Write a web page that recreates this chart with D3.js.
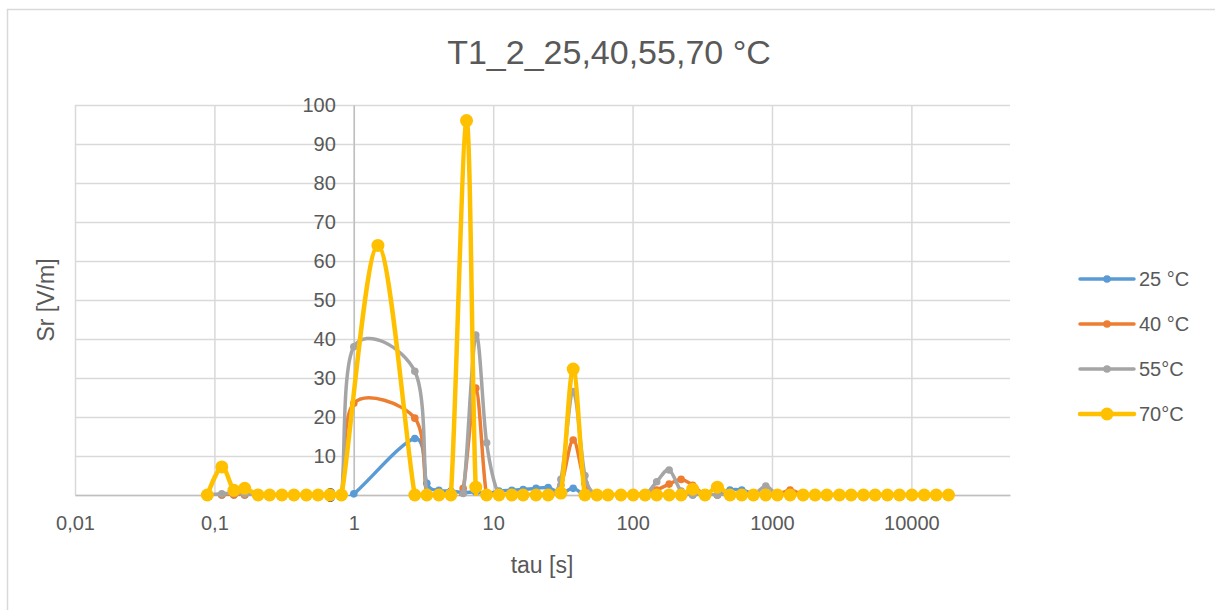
<!DOCTYPE html>
<html>
<head>
<meta charset="utf-8">
<script src="https://cdn.jsdelivr.net/npm/d3@7"></script>
<style>
  html, body { margin: 0; padding: 0; background: #fff; }
  svg { display: block; font-family: "Liberation Sans", Arial, sans-serif; }
</style>
</head>
<body>
<svg id="chart" width="1215" height="610"></svg>
<script>
// Relaxation-time grid tau [s] shared by all four temperature series
const tauGrid = [
  0.089, 0.113, 0.138, 0.165, 0.206, 0.249, 0.305, 0.372, 0.457, 0.554, 0.673, 0.816,
  1.0, 1.49, 2.74, 3.34, 4.08, 4.97, 6.09, 6.44, 7.5, 8.97, 11.0, 13.6, 16.4, 20.3,
  24.8, 30.6, 37.5, 45.5, 55.5, 66.6, 82.5, 101, 123, 149, 183, 223, 270, 331, 406,
  500, 607, 736, 903, 1094, 1349, 1672, 2039, 2474, 3046, 3697, 4531, 5497, 6735,
  8215, 10080, 12360, 15070, 18460
];

// Sr [V/m] per temperature (null = no value at that tau)
const sr25 = [
  0, 0, 0, 0, 0, 0, 0, 0, 0, 0, 0, 0,
  0.3, null, 14.5, 3, 1.2, 1, 0.6, null, 0.8, 0.3, 1.0, 1.2, 1.4, 1.7,
  1.9, 0.5, 1.7, 0, 0, 0, 0, 0, 0, 0, 0, 0, 0, 0, 0,
  1.3, 1.3, 0.3, 0, 0, 0, 0, 0, 0, 0, 0, 0, 0, 0,
  0, 0, 0, 0, 0
];
const sr40 = [
  0, 0, 0, 0, 0, 0, 0, 0, 0, 0, 0, 0,
  23.5, null, 19.7, 0.3, 0, 0, 1.7, null, 27.4, 0, 0, 0, 0, 0,
  0, 2.5, 14.1, 3, 0, 0, 0, 0, 0.5, 1.3, 2.8, 4, 2.5, 0, 0,
  0, 0, 0, 0, 0, 1.3, 0, 0, 0, 0, 0, 0, 0, 0,
  0, 0, 0, 0, 0
];
const sr55 = [
  0, 0.3, 0.5, 0.3, 0, 0, 0, 0, 0, 0, 0, 0,
  38, null, 31.7, 0.5, 0, 0, 0.4, null, 41, 13.4, 0, 0, 0, 0,
  0, 4, 26.5, 5, 0, 0, 0, 0, 0, 3.4, 6.4, 1, 0, 0, 0,
  0, 0, 0, 2.3, 0, 0, 0, 0, 0, 0, 0, 0, 0, 0,
  0, 0, 0, 0, 0
];
const sr70 = [
  0, 7.2, 1.2, 1.7, 0, 0, 0, 0, 0, 0, 0, 0,
  null, 64, 0, 0, 0, 0, null, 96, 2, 0, 0, 0, 0, 0,
  0, 0.5, 32.3, 0, 0, 0, 0, 0, 0, 0, 0, 0, 1.5, 0, 2,
  0, 0, 0, 0, 0, 0, 0, 0, 0, 0, 0, 0, 0, 0,
  0, 0, 0, 0, 0
];

const seriesNames = ["25 °C", "40 °C", "55°C", "70°C"];
const seriesValues = [sr25, sr40, sr55, sr70];
const seriesColors = ["#5B9BD5", "#ED7D31", "#A5A5A5", "#FFC000"];

const xTicks = [0.01, 0.1, 1, 10, 100, 1000, 10000];
const xTickLabels = ["0,01", "0,1", "1", "10", "100", "1000", "10000"];
const yTicks = [0, 10, 20, 30, 40, 50, 60, 70, 80, 90, 100];

const titleText = "T1_2_25,40,55,70 °C";
const xTitle = "tau [s]";
const yTitle = "Sr [V/m]";

// ---- layout ----
const svg = d3.select("#chart");
const plot = { left: 75, right: 1010, top: 105, bottom: 495 };
const gridColor = "#d9d9d9";
const textColor = "#595959";
const fontStack = "Liberation Sans, Arial, sans-serif";

const x = d3.scaleLog().domain([0.01, 51000]).range([plot.left, plot.right]);
const y = d3.scaleLinear().domain([0, 100]).range([plot.bottom, plot.top]);

// clip series lines to the plot area (markers stay unclipped)
svg.append("defs").append("clipPath").attr("id", "plotClip")
  .append("rect")
  .attr("x", plot.left).attr("y", plot.top - 4)
  .attr("width", plot.right - plot.left).attr("height", plot.bottom - plot.top + 5);

// chart frame
svg.append("rect")
  .attr("x", 7.5).attr("y", 9.5)
  .attr("width", 1230).attr("height", 620)
  .attr("fill", "#fff").attr("stroke", gridColor).attr("stroke-width", 1.5);

// title
svg.append("text")
  .attr("x", 609).attr("y", 64)
  .attr("text-anchor", "middle")
  .attr("font-size", 34)
  .attr("fill", textColor)
  .text(titleText);

// horizontal gridlines
svg.append("g")
  .attr("transform", `translate(${plot.left},0)`)
  .call(d3.axisLeft(y).tickValues(yTicks).tickSize(-(plot.right - plot.left)).tickFormat(""))
  .call(g => g.select(".domain").remove())
  .call(g => g.selectAll("line").attr("stroke", gridColor).attr("stroke-width", 1.5));

// vertical gridlines
svg.append("g")
  .attr("transform", `translate(0,${plot.bottom})`)
  .call(d3.axisBottom(x).tickValues(xTicks).tickSize(-(plot.bottom - plot.top)).tickFormat(""))
  .call(g => g.select(".domain").remove())
  .call(g => g.selectAll("line").attr("stroke", gridColor).attr("stroke-width", 1.5));

// x axis line and labels
svg.append("g")
  .attr("transform", `translate(0,${plot.bottom})`)
  .call(d3.axisBottom(x).tickValues(xTicks).tickSize(0).tickPadding(21)
    .tickFormat((d, i) => xTickLabels[i]))
  .call(g => g.select(".domain").attr("stroke", "#bfbfbf").attr("stroke-width", 1.5))
  .call(g => g.selectAll("text").attr("font-size", 20).attr("fill", textColor)
    .attr("font-family", fontStack));

// y axis crossing at tau = 1
svg.append("g")
  .attr("transform", `translate(${x(1)},0)`)
  .call(d3.axisLeft(y).tickValues(yTicks).tickSize(0).tickPadding(18))
  .call(g => g.select(".domain").attr("stroke", "#bfbfbf").attr("stroke-width", 1.5))
  .call(g => g.selectAll("text").attr("font-size", 20).attr("fill", textColor)
    .attr("font-family", fontStack));

// axis titles
svg.append("text")
  .attr("x", 542).attr("y", 573)
  .attr("text-anchor", "middle").attr("font-size", 23).attr("fill", textColor)
  .text(xTitle);
svg.append("text")
  .attr("transform", `translate(54,${(plot.top + plot.bottom) / 2}) rotate(-90)`)
  .attr("text-anchor", "middle").attr("font-size", 23).attr("fill", textColor)
  .text(yTitle);

// series
const line = d3.line()
  .x(d => x(d.tau))
  .y(d => y(d.v))
  .curve(d3.curveCardinal.tension(0));

seriesValues.forEach((vals, si) => {
  const pts = tauGrid.map((t, i) => ({ tau: t, v: vals[i] })).filter(d => d.v !== null);
  const big = si === 3;
  const g = svg.append("g");
  g.append("path")
    .datum(pts)
    .attr("d", line)
    .attr("clip-path", "url(#plotClip)")
    .attr("fill", "none")
    .attr("stroke", seriesColors[si])
    .attr("stroke-width", big ? 4.5 : 3.5)
    .attr("stroke-linejoin", "round")
    .attr("stroke-linecap", "round");
  g.selectAll("circle")
    .data(pts)
    .join("circle")
    .attr("cx", d => x(d.tau))
    .attr("cy", d => y(d.v))
    .attr("r", big ? 6.5 : 3.8)
    .attr("fill", seriesColors[si]);
});

// legend
const legend = svg.append("g").attr("transform", "translate(1080,279)");
seriesNames.forEach((name, i) => {
  const item = legend.append("g").attr("transform", `translate(0,${i * 45})`);
  const big = i === 3;
  item.append("line")
    .attr("x1", 0).attr("x2", 54).attr("y1", 0).attr("y2", 0)
    .attr("stroke", seriesColors[i]).attr("stroke-width", big ? 4.5 : 3.5)
    .attr("stroke-linecap", "round");
  item.append("circle")
    .attr("cx", 27).attr("cy", 0).attr("r", big ? 6.5 : 3.8)
    .attr("fill", seriesColors[i]);
  item.append("text")
    .attr("x", 59).attr("y", 0).attr("dy", "0.35em")
    .attr("font-size", 20).attr("fill", textColor)
    .text(name);
});
</script>
</body>
</html>
